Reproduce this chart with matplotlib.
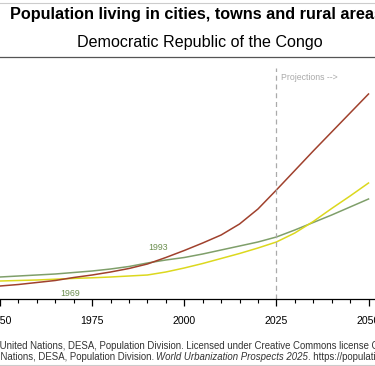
import matplotlib
matplotlib.use("Agg")
import matplotlib.pyplot as plt
from matplotlib.lines import Line2D
import numpy as np

plt.rcParams['font.family'] = ['Liberation Sans', 'DejaVu Sans']

years = list(range(1950, 2051, 5))
# Population (millions)
cities = [6.5, 7.25, 8.25, 9.25, 10.75, 12.0, 13.5, 15.25, 17.5, 20.75, 24.25, 28.0, 32.0,
          37.5, 45.0, 54.5, 64.25, 74.0, 83.5, 93.0, 102.5]
towns = [9.0, 9.25, 9.5, 9.9, 10.3, 10.6, 11.0, 11.5, 12.0, 13.5, 15.5, 17.75, 20.25,
         22.75, 25.5, 28.5, 33.0, 38.75, 45.25, 51.5, 58.0]
rural = [11.0, 11.5, 12.0, 12.5, 13.25, 14.0, 15.0, 16.25, 18.0, 19.5, 20.75, 22.5, 24.5,
         26.5, 28.5, 31.0, 34.5, 38.25, 42.0, 46.0, 50.0]
cross_years = [1969, 1993]
cross_vals = [10.5, 19.5]

title = "Population living in cities, towns and rural areas"
subtitle = "Democratic Republic of the Congo"
src1 = "\u00a9 2025 United Nations, DESA, Population Division. Licensed under Creative Commons license CC BY 3.0 IGO."
src2a = "United Nations, DESA, Population Division. "
src2b = "World Urbanization Prospects 2025"
src2c = ". https://population.un.org/wup/"

W, H = 375, 366
fig = plt.figure(figsize=(W / 100, H / 100), dpi=100)
fig.patch.set_facecolor('white')

def fy(px):
    return 1 - px / H

ax_top, ax_bot = 62, 299
ax = fig.add_axes([0, fy(ax_bot), 1, (ax_bot - ax_top) / H])
k = 0.5
ax.set_ylim(0, (ax_bot - ax_top) * k)
ax.set_xlim(1951.23, 2051.76)

ax.plot(years, rural, color='#7f9f6a', lw=1.1)
ax.plot(years, towns, color='#dcd81e', lw=1.1)
ax.plot(years, cities, color='#a0412d', lw=1.1)

ax.axvline(2025, ymax=(ax_bot - 68) / (ax_bot - ax_top), color='#aaaaaa', lw=0.9,
           ls=(0, (4, 3)))
ax.text(2026.2, (ax_bot - 77) * k, "Projections -->", color='#aaaaaa', fontsize=6.3,
        va='center', ha='left')

ax.text(cross_years[0], cross_vals[0] - 8, str(cross_years[0]), color='#6b8e4e',
        fontsize=6.3, ha='center', va='center')
ax.text(cross_years[1], cross_vals[1] + 6, str(cross_years[1]), color='#6b8e4e',
        fontsize=6.3, ha='center', va='center')

for s in ['top', 'right', 'left']:
    ax.spines[s].set_visible(False)
ax.spines['bottom'].set_color('black')
ax.spines['bottom'].set_linewidth(0.9)
ax.set_yticks([])
ax.set_xticks([1950, 1975, 2000, 2025, 2050])
ax.set_xticks(range(1950, 2051, 5), minor=True)
ax.tick_params(axis='x', which='major', length=5, width=0.9, direction='out',
               labelsize=7.6, pad=7)
ax.tick_params(axis='x', which='minor', length=3, width=0.8, direction='out')
ax.set_facecolor('none')

fig.text(10 / W, fy(15), title, ha='left', va='center', fontsize=11.7,
         fontweight='bold')
fig.text(200 / W, fy(42), subtitle, ha='center', va='center', fontsize=11.6)

for ypx, col, lw in [(2.5, '#cccccc', 0.8), (57, '#555555', 0.9), (365, '#cccccc', 0.8)]:
    fig.add_artist(Line2D([0, 1], [fy(ypx), fy(ypx)], transform=fig.transFigure,
                          color=col, lw=lw))

renderer = fig.canvas.get_renderer()

def width_px(s, **kw):
    t = fig.text(0, 0, s, **kw)
    w = t.get_window_extent(renderer=renderer).width
    t.remove()
    return w

fs_src = 6.9
pre1 = width_px("\u00a9 2025 ", fontsize=fs_src)
fig.text(-pre1 / W, fy(346), src1, fontsize=fs_src, va='center', ha='left', color='#333333')

pre2 = width_px("United ", fontsize=fs_src)
x = -pre2
for s, style in [(src2a, 'normal'), (src2b, 'italic'), (src2c, 'normal')]:
    fig.text(x / W, fy(357), s, fontsize=fs_src, style=style, va='center', ha='left',
             color='#333333')
    x += width_px(s, fontsize=fs_src, style=style)

fig.savefig("out.png", dpi=100)
